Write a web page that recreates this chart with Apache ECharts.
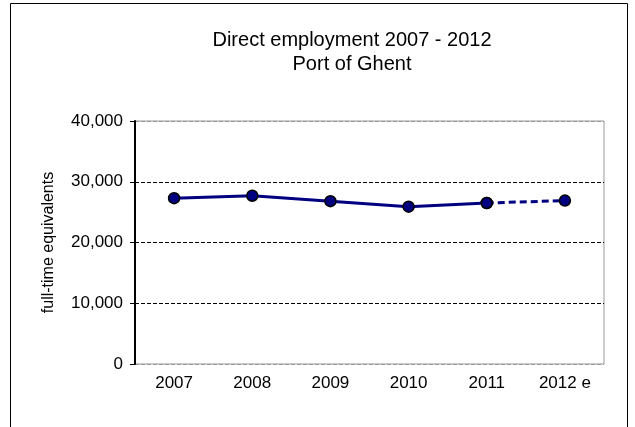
<!DOCTYPE html>
<html>
<head>
<meta charset="utf-8">
<script src="https://cdn.jsdelivr.net/npm/echarts@6/dist/echarts.min.js"></script>
<style>
html,body{margin:0;padding:0;background:#fff;}
#c{width:635px;height:427px;}
</style>
</head>
<body>
<div id="c"></div>
<script>
var years = ['2007', '2008', '2009', '2010', '2011', '2012 e'];
var employment = [27300, 27700, 26800, 25900, 26500, 26900];
var yTicks = [0, 10000, 20000, 30000, 40000];
var titleLines = ['Direct employment 2007 - 2012', 'Port of Ghent'];
var yName = 'full-time equivalents';

var lastActual = 4;
var actual = employment.map(function (v, i) { return i <= lastActual ? v : null; });
var estimate = employment.map(function (v, i) { return i >= lastActual ? v : null; });

var chart = echarts.init(document.getElementById('c'), null, {renderer: 'canvas'});
var fontFam = 'Liberation Sans, Arial, sans-serif';
chart.setOption({
  animation: false,
  backgroundColor: '#fff',
  graphic: [{
    type: 'rect', silent: true,
    shape: {x: 10.5, y: 3.5, width: 617, height: 440},
    style: {fill: 'none', stroke: '#000', lineWidth: 1}
  }],
  title: {
    text: titleLines.join('\n'),
    left: 347, top: 23, textAlign: 'center',
    textStyle: {fontFamily: fontFam, fontSize: 20, fontWeight: 'normal', color: '#000', lineHeight: 24}
  },
  grid: {
    left: 135, right: 31, top: 121, bottom: 63,
    show: true, borderColor: '#999', borderWidth: 1, backgroundColor: '#fff'
  },
  xAxis: {
    type: 'category', data: years, boundaryGap: true,
    axisLine: {show: false},
    axisTick: {show: false},
    axisLabel: {fontFamily: fontFam, fontSize: 17, color: '#000', margin: 11},
    splitLine: {show: false}
  },
  yAxis: {
    type: 'value', min: yTicks[0], max: yTicks[yTicks.length - 1], interval: yTicks[1] - yTicks[0],
    name: yName, nameLocation: 'middle', nameGap: 78, nameRotate: 90,
    nameTextStyle: {fontFamily: fontFam, fontSize: 16, color: '#000'},
    axisLine: {show: true, lineStyle: {color: '#000', width: 2}},
    axisTick: {show: true, length: 5, lineStyle: {color: '#000', width: 1}},
    axisLabel: {
      fontFamily: fontFam, fontSize: 17, color: '#000', margin: 12,
      formatter: function (v) { return v.toLocaleString('en-US'); }
    },
    splitLine: {show: true, lineStyle: {type: [4, 2], color: ['#999', '#000', '#000', '#000', '#999'], width: 1}}
  },
  series: [{
    type: 'line', data: actual, connectNulls: false,
    symbol: 'circle', symbolSize: 11,
    lineStyle: {color: '#000080', width: 3},
    itemStyle: {color: '#000080', borderColor: '#000', borderWidth: 1.5},
    z: 3
  }, {
    type: 'line', data: estimate,
    symbol: 'circle', symbolSize: 11,
    lineStyle: {color: '#000080', width: 3, type: [7, 4]},
    itemStyle: {color: '#000080', borderColor: '#000', borderWidth: 1.5},
    z: 2
  }]
});
</script>
</body>
</html>
